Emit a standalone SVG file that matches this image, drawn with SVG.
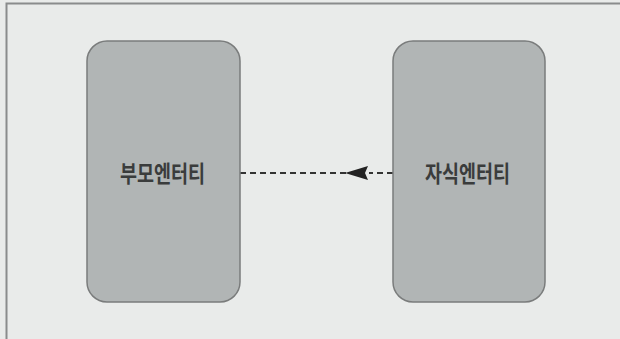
<svg xmlns="http://www.w3.org/2000/svg" width="620" height="339" viewBox="0 0 620 339">
<defs>
<style>
.box{fill:#b1b5b5;stroke:#7a7c7c;stroke-width:1.5}
.lbl{font-family:"Noto Sans CJK KR","Noto Sans",sans-serif;font-size:23px;font-weight:700;fill:#3a3c3c;text-anchor:middle}
.conn{stroke:#333;stroke-width:1.8;stroke-dasharray:6 4;fill:none}
.head{fill:#222}
</style>
</defs>
<rect x="0" y="0" width="620" height="339" fill="#e9ebea"/>
<path d="M6.5,339 V3.5 H620" fill="none" stroke="#8a8c8c" stroke-width="2"/>
<g id="connectors">
<line class="conn" x1="393" y1="173" x2="369" y2="173"/>
<line class="conn" x1="346" y1="173" x2="240" y2="173"/>
<path class="head" d="M345,173 L368,166 L365,173 L368,180 Z"/>
</g>
<g id="parent">
<rect class="box" x="87" y="41" width="153" height="261" rx="20"/>
<text class="lbl" x="162.5" y="181.5" textLength="85" lengthAdjust="spacingAndGlyphs">부모엔터티</text>
</g>
<g id="child">
<rect class="box" x="393" y="41" width="152" height="261" rx="20"/>
<text class="lbl" x="467.5" y="181.5" textLength="85" lengthAdjust="spacingAndGlyphs">자식엔터티</text>
</g>
</svg>
